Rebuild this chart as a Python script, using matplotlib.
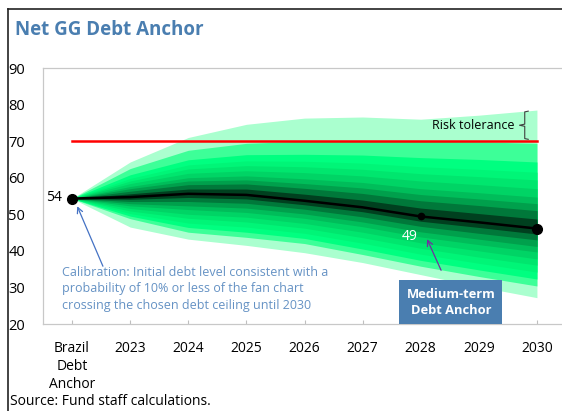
import matplotlib.pyplot as plt
from matplotlib.lines import Line2D

plt.rcParams['font.family'] = ['Open Sans', 'DejaVu Sans']

labels = ['Brazil\nDebt\nAnchor', '2023', '2024', '2025', '2026', '2027', '2028', '2029', '2030']
median = [54.3, 54.7, 55.6, 55.3, 53.7, 51.9, 49.4, 47.8, 46.1]
ceiling = 70

# fan boundaries, inner -> outer
upper = [
    [54.3, 55.6, 56.9, 56.9, 55.5, 53.9, 51.7, 50.2, 48.7],
    [54.3, 56.3, 58.1, 58.3, 57.1, 55.7, 53.7, 52.4, 51.0],
    [54.3, 57.0, 59.1, 59.4, 58.4, 57.2, 55.4, 54.2, 52.9],
    [54.3, 57.6, 60.0, 60.5, 59.7, 58.7, 57.0, 55.9, 54.7],
    [54.3, 58.4, 61.2, 61.9, 61.4, 60.5, 59.1, 58.1, 57.0],
    [54.3, 59.1, 62.4, 63.3, 63.0, 62.3, 61.1, 60.3, 59.4],
    [54.3, 59.8, 63.5, 64.6, 64.5, 64.0, 63.0, 62.3, 61.5],
    [54.3, 60.8, 64.9, 66.3, 66.4, 66.2, 65.5, 65.0, 64.3],
    [54.3, 62.5, 67.5, 69.4, 70.0, 70.2, 70.0, 69.8, 69.4],
    [54.3, 64.3, 71.0, 74.6, 76.3, 76.6, 76.0, 77.1, 78.5],
]
lower = [
    [54.3, 54.1, 54.6, 54.2, 52.6, 50.7, 48.1, 46.4, 44.6],
    [54.3, 53.5, 53.5, 53.0, 51.4, 49.3, 46.7, 44.8, 43.0],
    [54.3, 52.9, 52.3, 51.7, 50.1, 47.9, 45.2, 43.2, 41.2],
    [54.3, 52.3, 51.3, 50.5, 48.9, 46.6, 43.8, 41.7, 39.7],
    [54.3, 51.6, 50.0, 49.2, 47.5, 45.1, 42.2, 40.0, 37.8],
    [54.3, 50.9, 48.9, 47.9, 46.2, 43.6, 40.7, 38.3, 36.1],
    [54.3, 50.2, 47.6, 46.5, 44.8, 42.1, 39.1, 36.6, 34.2],
    [54.3, 49.5, 46.4, 45.1, 43.4, 40.5, 37.4, 34.8, 32.3],
    [54.3, 48.8, 45.1, 43.7, 42.0, 39.0, 35.8, 33.0, 30.4],
    [54.3, 46.5, 43.2, 41.5, 39.5, 36.8, 33.5, 30.2, 27.2],
]
band_colors = ['#00401f', '#00783a', '#00a04c', '#00bd5a', '#00d465',
               '#00e66e', '#00f577', '#00ff80', '#3dff98', '#aaffcf']

x = list(range(len(labels)))
blue = '#4a7eb0'

fig = plt.figure(figsize=(5.62, 4.11), dpi=100)
ax = fig.add_axes([43 / 562, 1 - 324 / 411, 523 / 562, 256 / 411])

# nested fills, outermost first
for lo, hi, c in reversed(list(zip(lower, upper, band_colors))):
    ax.fill_between(x, lo, hi, color=c, lw=0)

ax.plot([x[0], x[-1]], [ceiling, ceiling], color='#ff0000', lw=1.8)
ax.plot(x, median, color='black', lw=1.8)
ax.plot(x[0], median[0], 'o', color='black', ms=7)
ax.plot(x[6], median[6], 'o', color='black', ms=4.5)
ax.plot(x[-1], median[-1], 'o', color='black', ms=7)

ax.annotate(f'{median[0]:.0f}', xy=(x[0], median[0]), xytext=(-7, 1),
            textcoords='offset points', ha='right', va='center', fontsize=10)
ax.annotate(f'{median[6]:.0f}', xy=(x[6], median[6]), xytext=(-8, -14.5),
            textcoords='offset points', ha='center', va='center', fontsize=10, color='white')

# calibration note
ax.text(-0.17, 35.9, 'Calibration: Initial debt level consistent with a\n'
        'probability of 10% or less of the fan chart\n'
        'crossing the chosen debt ceiling until 2030',
        ha='left', va='top', fontsize=9, color='#6592c4', linespacing=1.35)
ax.annotate('', xy=(0.07, 52.9), xytext=(0.55, 35.1),
            arrowprops=dict(arrowstyle='->', color='#4472c4', lw=0.9))

# medium-term anchor box
ax.text(6.52, 26.0, 'Medium-term\nDebt Anchor', ha='center', va='center',
        fontsize=9.3, color='white', fontweight='bold', linespacing=1.3,
        bbox=dict(boxstyle='square,pad=0.55', fc=blue, ec='none'))
ax.annotate('', xy=(6.09, 43.9), xytext=(6.37, 34.0),
            arrowprops=dict(arrowstyle='->', color='#7030a0', lw=0.9))

# risk tolerance bracket
top, bot = upper[-1][-1] - 0.3, ceiling + 0.5
mid = (top + bot) / 2
bx = 7.79
ax.plot([bx + 0.06, bx, bx, bx - 0.09, bx, bx, bx + 0.06],
        [top, top - 0.2, mid + 0.3, mid, mid - 0.3, bot + 0.2, bot],
        color='#404040', lw=0.8)
ax.text(bx - 0.17, mid, 'Risk tolerance', ha='right', va='center', fontsize=9)

ax.set_xlim(-0.5, 8.5)
ax.set_ylim(20, 90)
ax.set_yticks(range(20, 91, 10))
ax.set_xticks(x)
ax.set_xticklabels(labels, linespacing=1.3)
ax.tick_params(axis='y', length=0, pad=13, labelsize=10.5)
ax.tick_params(axis='x', direction='in', length=3, color='#bfbfbf', pad=12, labelsize=10)
for s in ax.spines.values():
    s.set_color('#c8c8c8')
    s.set_linewidth(0.9)

fig.text(15 / 562, 1 - 30 / 411, 'Net GG Debt Anchor', fontsize=13.5, fontweight='bold',
         color=blue, ha='left', va='center')
fig.text(10 / 562, 1 - 401 / 411, 'Source: Fund staff calculations.', fontsize=10,
         ha='left', va='center')

# frame lines of the exhibit
fig.add_artist(Line2D([8 / 562, 8 / 562], [0, 1 - 9 / 411], color='#222222', lw=1.2))
fig.add_artist(Line2D([8 / 562, 1], [1 - 9 / 411, 1 - 9 / 411], color='#222222', lw=1.2))

fig.savefig('out.png', dpi=100)
